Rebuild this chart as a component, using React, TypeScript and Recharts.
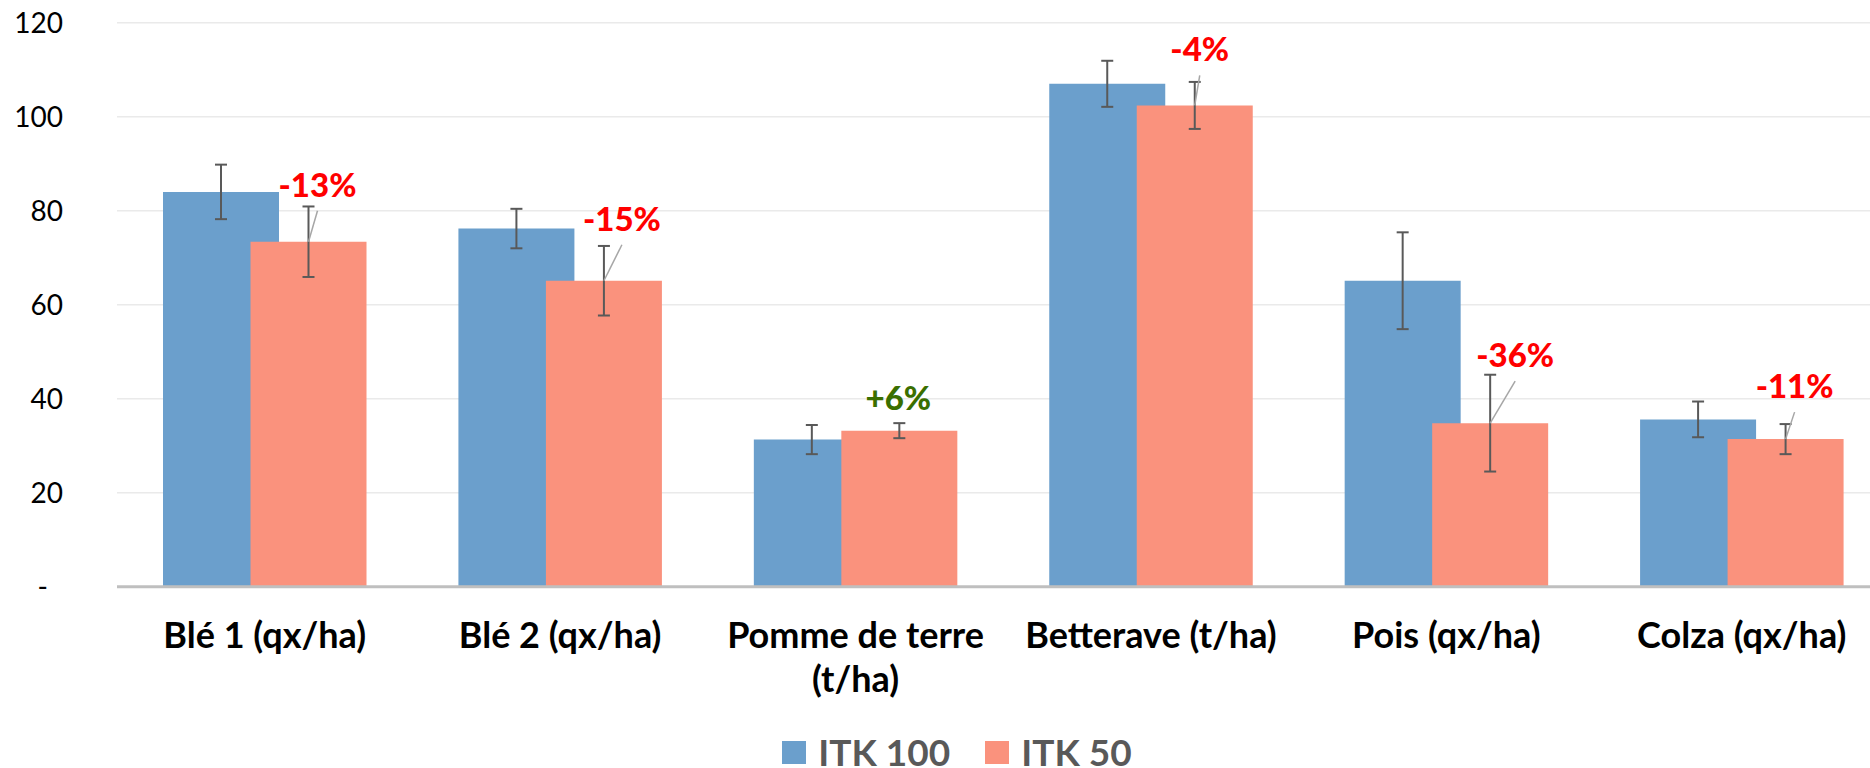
import { BarChart, Bar, XAxis, YAxis, CartesianGrid, ErrorBar, LabelList, Legend } from 'recharts';

const categories = ['Blé 1 (qx/ha)', 'Blé 2 (qx/ha)', 'Pomme de terre (t/ha)', 'Betterave (t/ha)', 'Pois (qx/ha)', 'Colza (qx/ha)'];
const itk100 = [84, 76.2, 31.3, 107, 65.1, 35.6];
const itk100Err = [5.8, 4.2, 3.1, 4.9, 10.3, 3.8];
const itk50 = [73.4, 65.1, 33.2, 102.4, 34.8, 31.4];
const itk50Err = [7.5, 7.4, 1.6, 5, 10.3, 3.2];
const changes = ['-13%', '-15%', '+6%', '-4%', '-36%', '-11%'];
const yTicks = [0, 20, 40, 60, 80, 100, 120];

const data = categories.map((name, i) => ({
  name,
  itk100: itk100[i],
  err100: itk100Err[i],
  itk50: itk50[i],
  err50: itk50Err[i],
  change: changes[i],
}));

const BLUE = '#6B9FCC';
const SALMON = '#FA927D';
const FONT = 'Lato, "Open Sans", sans-serif';

// manual placement of the % labels, relative to the top of the ITK 50 bar
const labelNudge = [
  { dx: 9, dy: -57, leader: true },
  { dx: 18, dy: -62, leader: true },
  { dx: -1, dy: -33, leader: false },
  { dx: 5, dy: -56, leader: true },
  { dx: 25, dy: -68, leader: true },
  { dx: 9, dy: -53, leader: true },
];

const renderChange = (props: any) => {
  const { x, y, width, value, index } = props;
  const n = labelNudge[index];
  const cx = Number(x) + Number(width) / 2;
  const top = Number(y);
  const lx = cx + n.dx;
  const ly = top + n.dy;
  const color = String(value).startsWith('+') ? '#3A6F00' : '#FF0000';
  return (
    <g>
      {n.leader && <line x1={cx} y1={top} x2={lx} y2={ly + 26} stroke="#A6A6A6" strokeWidth={1.5} />}
      <text x={lx} y={ly + 12} textAnchor="middle" fill={color} fontSize={33} fontWeight={900} fontFamily={FONT}>
        {value}
      </text>
    </g>
  );
};

// long category names go on two lines, breaking before the unit
const wrapLabel = (s: string) => {
  if (s.length <= 17) return [s];
  const k = s.lastIndexOf(' (');
  return k > 0 ? [s.slice(0, k), s.slice(k + 1)] : [s];
};

const XTick = (props: any) => {
  const { x, y, payload } = props;
  const lines = wrapLabel(String(payload.value));
  return (
    <text x={x} y={y + 61} textAnchor="middle" fontSize={36} fontWeight={700} fontFamily={FONT} fill="#000">
      {lines.map((l, i) => (
        <tspan key={i} x={x} dy={i ? 44 : 0}>
          {l}
        </tspan>
      ))}
    </text>
  );
};

const YTick = (props: any) => {
  const { x, y, payload } = props;
  const zero = payload.value === 0;
  return (
    <text x={zero ? x - 15 : x} y={y} dy="0.355em" textAnchor="end" fontSize={28} fontFamily={FONT} fill="#000">
      {zero ? '-' : payload.value}
    </text>
  );
};

const LegendContent = () => (
  <div style={{ display: 'flex', justifyContent: 'center', paddingLeft: 44, paddingTop: 4, fontFamily: FONT }}>
    {[
      { label: 'ITK 100', color: BLUE },
      { label: 'ITK 50', color: SALMON },
    ].map((it, i) => (
      <div key={it.label} style={{ display: 'flex', alignItems: 'center', marginLeft: i ? 35 : 0 }}>
        <span style={{ display: 'inline-block', width: 24, height: 23, background: it.color, marginRight: 12 }} />
        <span style={{ fontSize: 37, fontWeight: 700, color: '#595959', lineHeight: '40px' }}>{it.label}</span>
      </div>
    ))}
  </div>
);

export default function App() {
  return (
    <div style={{ position: 'absolute', left: 0, top: 0, width: 1870, height: 768, overflow: 'hidden', background: '#fff' }}>
      <BarChart
        width={1900}
        height={768}
        data={data}
        margin={{ top: 22.7, right: 10.5, left: 0, bottom: 0 }}
        barSize={116}
        barGap={-28.5}
      >
        <CartesianGrid vertical={false} stroke="#EAEAEA" strokeWidth={1.5} />
        <XAxis
          dataKey="name"
          height={141.3}
          tickLine={false}
          tickSize={0}
          tickMargin={0}
          interval={0}
          axisLine={{ stroke: '#BFBFBF', strokeWidth: 3 }}
          tick={<XTick />}
        />
        <YAxis
          width={117}
          domain={[0, 120]}
          ticks={yTicks}
          interval={0}
          axisLine={false}
          tickLine={false}
          tickSize={0}
          tickMargin={54}
          tick={<YTick />}
        />
        <Legend
          verticalAlign="bottom"
          height={40}
          wrapperStyle={{ left: 0, width: 1870, bottom: 0 }}
          content={<LegendContent />}
        />
        <Bar dataKey="itk100" name="ITK 100" fill={BLUE} isAnimationActive={false}>
          <ErrorBar dataKey="err100" width={6} strokeWidth={2} stroke="#595959" direction="y" isAnimationActive={false} />
        </Bar>
        <Bar dataKey="itk50" name="ITK 50" fill={SALMON} isAnimationActive={false}>
          <ErrorBar dataKey="err50" width={6} strokeWidth={2} stroke="#595959" direction="y" isAnimationActive={false} />
          <LabelList dataKey="change" content={renderChange} />
        </Bar>
      </BarChart>
    </div>
  );
}
